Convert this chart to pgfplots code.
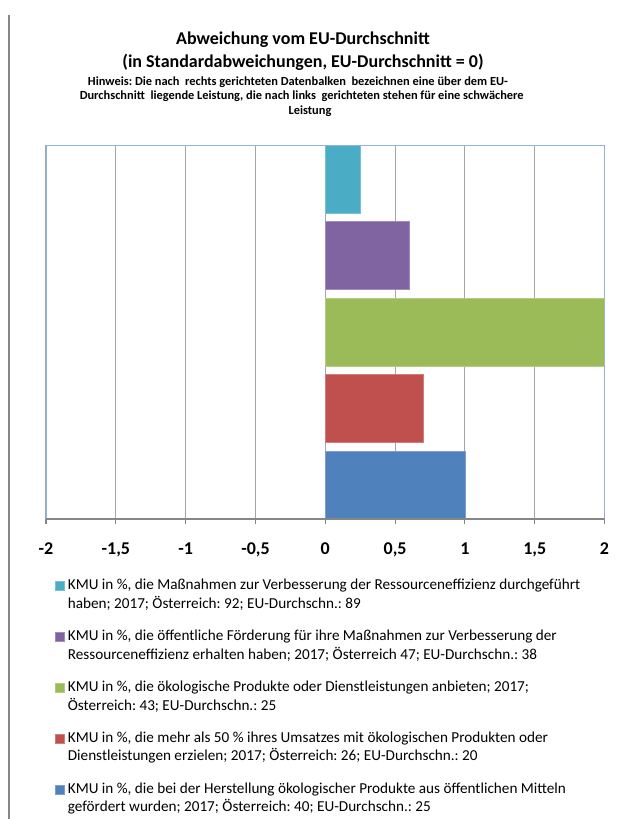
\documentclass[border=0pt]{standalone}
\usepackage{pgfplots}
\pgfplotsset{compat=1.18}
\usepackage{fontspec}
\setmainfont{Carlito}
\frenchspacing
\definecolor{cC}{HTML}{4BACC6}
\definecolor{cP}{HTML}{8064A2}
\definecolor{cG}{HTML}{9BBB59}
\definecolor{cR}{HTML}{C0504D}
\definecolor{cB}{HTML}{4F81BD}
\definecolor{frameblue}{HTML}{8EB4E3}
\definecolor{gridgray}{HTML}{A6A6A6}
\definecolor{axgray}{HTML}{868686}
\begin{document}
\begin{tikzpicture}
\path[use as bounding box] (-34.5pt,-225pt) rectangle (437.25pt,389.25pt);
\draw[axgray, line width=1pt] (-27.75pt,378pt) -- (-27.75pt,-225pt);
\node[font=\fontsize{13.5}{16}\selectfont\bfseries] at (192.75pt,359.25pt) {Abweichung vom EU-Durchschnitt};
\node[font=\fontsize{13.5}{16}\selectfont\bfseries] at (192.75pt,342.75pt) {(in Standardabweichungen, EU-Durchschnitt = 0)};
\node[font=\fontsize{9.3}{11}\selectfont\bfseries] at (189pt,327.75pt) {Hinweis: Die nach \ rechts gerichteten Datenbalken \ bezeichnen eine über dem EU-};
\node[font=\fontsize{9.3}{11}\selectfont\bfseries] at (191.8pt,317.25pt) {Durchschnitt \ liegende Leistung, die nach links \ gerichteten stehen für eine schwächere};
\node[font=\fontsize{9.3}{11}\selectfont\bfseries] at (198pt,306pt) {Leistung};
\begin{axis}[
  at={(0,0)}, anchor=south west,
  scale only axis, width=418.9pt, height=280.5pt,
  xmin=-2, xmax=2, ymin=-0.445, ymax=4.445,
  xtick={-2,-1.5,...,2}, ytick=\empty,
  xmajorgrids, grid style={gridgray, line width=0.8pt},
  axis line style={draw=none},
  xtick pos=bottom, tick align=outside, major tick length=3.75pt,
  tick style={axgray, line width=0.8pt},
  xticklabel style={yshift=-10.5pt, font=\fontsize{13.5}{16}\selectfont\bfseries, /pgf/number format/.cd, use comma, assume math mode=true, fixed},
  legend style={at={(axis description cs:0,0)}, anchor=north west, xshift=6.75pt, yshift=-43pt,
    draw=none, fill=none, inner sep=0pt, row sep=10.8pt, column sep=0.3pt,
    font=\fontsize{11.4}{13.9}\selectfont, cells={anchor=base west, align=left}},
  legend image code/.code={\fill[#1] (0pt,13.3pt) rectangle (6.75pt,20.05pt);},
]
\addplot[xbar, bar width=0.889, bar shift=0pt, fill=cC, draw=cC!75!white] coordinates {(0.25,4)};
\addlegendentry{KMU in \%, die Maßnahmen zur Verbesserung der Ressourceneffizienz durchgeführt\\haben; 2017; Österreich: 92; EU-Durchschn.: 89}
\addplot[xbar, bar width=0.889, bar shift=0pt, fill=cP, draw=cP!75!white] coordinates {(0.6,3)};
\addlegendentry{KMU in \%, die öffentliche Förderung für ihre Maßnahmen zur Verbesserung der\\Ressourceneffizienz erhalten haben; 2017; Österreich 47; EU-Durchschn.: 38}
\addplot[xbar, bar width=0.889, bar shift=0pt, fill=cG, draw=cG!75!white] coordinates {(2,2)};
\addlegendentry{KMU in \%, die ökologische Produkte oder Dienstleistungen anbieten; 2017;\\Österreich: 43; EU-Durchschn.: 25}
\addplot[xbar, bar width=0.889, bar shift=0pt, fill=cR, draw=cR!75!white] coordinates {(0.7,1)};
\addlegendentry{KMU in \%, die mehr als 50 \% ihres Umsatzes mit ökologischen Produkten oder\\Dienstleistungen erzielen; 2017; Österreich: 26; EU-Durchschn.: 20}
\addplot[xbar, bar width=0.889, bar shift=0pt, fill=cB, draw=cB!75!white] coordinates {(1,0)};
\addlegendentry{KMU in \%, die bei der Herstellung ökologischer Produkte aus öffentlichen Mitteln\\gefördert wurden; 2017; Österreich: 40; EU-Durchschn.: 25}
\draw[frameblue, line width=1pt] (rel axis cs:0,0) -- (rel axis cs:0,1) -- (rel axis cs:1,1) -- (rel axis cs:1,0);
\draw[axgray, line width=1pt] (rel axis cs:0,0) -- (rel axis cs:1,0);
\end{axis}
\end{tikzpicture}
\end{document}
